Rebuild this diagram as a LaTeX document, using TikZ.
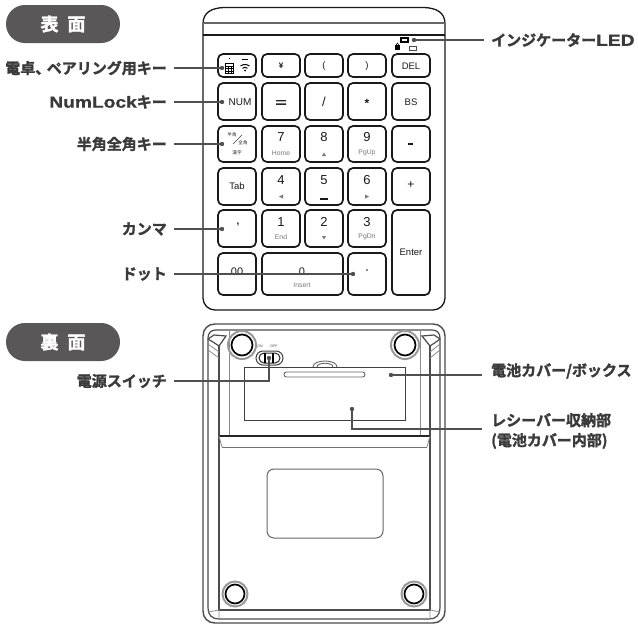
\documentclass[tikz,border=0pt]{standalone}
\usepackage{fontspec}
\setmainfont{Liberation Sans}
\newfontfamily\jp[FakeBold=1.8]{Noto Sans CJK JP Bold}
\newfontfamily\jpthin{Noto Sans CJK JP}
\newfontfamily\latb[FakeBold=0.8,FakeStretch=1.2]{Liberation Sans Bold}
\definecolor{pillc}{HTML}{5A5758}
\definecolor{leadc}{HTML}{505050}
\definecolor{labc}{HTML}{3A3A3A}
\definecolor{subc}{HTML}{777777}
\tikzset{
  keybox/.style={draw=black!90,line width=1.7pt,rounded corners=5pt,inner sep=0pt},
  pill/.style={fill=pillc,rounded corners=18.9pt,minimum width=114pt,minimum height=38pt,inner sep=0pt,text=white,font=\jp\fontsize{18}{18}\selectfont},
  labl/.style={anchor=east,inner sep=0pt,text=labc,font=\jp\fontsize{15}{16}\selectfont},
  labr/.style={anchor=west,inner sep=0pt,text=labc,font=\jp\fontsize{15}{20}\selectfont},
  leader/.style={draw=leadc,line width=1.4pt},
  ldot/.style={circle,fill=leadc,inner sep=0pt,minimum size=4.6pt},
  kt/.style={inner sep=0pt,text=black!90,font=\fontsize{9.5}{10}\selectfont},
  kn/.style={inner sep=0pt,text=black!90,font=\fontsize{13}{13}\selectfont},
  ks/.style={inner sep=0pt,text=subc,font=\fontsize{6.8}{7}\selectfont},
  kj/.style={inner sep=0pt,text=black!85,font=\jpthin\fontsize{4.6}{5}\selectfont},
  bodyl/.style={draw=black!90,line width=1.2pt},
  backo/.style={draw=black!70,line width=1.2pt},
  backi/.style={draw=black!45,line width=.8pt},
  foot/.style={circle,draw=black,line width=1.7pt,fill=white,inner sep=0pt},
  footo/.style={circle,draw=black!40,line width=2pt,inner sep=0pt},
}
\newcommand{\kkey}[5]{\node[keybox,minimum width=#4pt-#2pt,minimum height=#5pt-#3pt] (#1) at ({(#2+#4)/2},{(#3+#5)/2}) {};}
\newcommand{\lat}[1]{{\latb\fontsize{16}{16}\selectfont #1}}
\begin{document}
\begin{tikzpicture}[x=1pt,y=-1pt]
\useasboundingbox (0,0) rectangle (638,624);
% front body
\draw[bodyl,line width=1.3pt] (203,310) ++(0,-12) -- (203,24) .. controls (203,12) and (212,8) .. (224,7.5) -- (424,7.5) .. controls (436,8) and (445,12) .. (445,24) -- (445,298) arc[start angle=0,end angle=90,radius=12] -- (215,310) arc[start angle=90,end angle=180,radius=12] -- cycle;
\draw[black!60,line width=1.1pt] (203,23) -- (445,23);
\draw[bodyl] (203,35) -- (445,35);
% keys
\kkey{a1}{218}{54}{256}{77}\kkey{a2}{262}{54}{300}{77}\kkey{a3}{305}{54}{343}{77}\kkey{a4}{348}{54}{386}{77}\kkey{a5}{392}{54}{430}{77}
\kkey{b1}{218}{83}{256}{120}\kkey{b2}{262}{83}{300}{120}\kkey{b3}{305}{83}{343}{120}\kkey{b4}{348}{83}{386}{120}\kkey{b5}{392}{83}{430}{120}
\kkey{c1}{218}{126}{256}{162}\kkey{c2}{262}{126}{300}{162}\kkey{c3}{305}{126}{343}{162}\kkey{c4}{348}{126}{386}{162}\kkey{c5}{392}{126}{430}{162}
\kkey{d1}{218}{168}{256}{205}\kkey{d2}{262}{168}{300}{205}\kkey{d3}{305}{168}{343}{205}\kkey{d4}{348}{168}{386}{205}\kkey{d5}{392}{168}{430}{205}
\kkey{e1}{218}{210}{256}{247}\kkey{e2}{262}{210}{300}{247}\kkey{e3}{305}{210}{343}{247}\kkey{e4}{348}{210}{386}{247}
\kkey{f1}{218}{253}{256}{295}\kkey{f2}{262}{253}{343}{295}\kkey{f4}{348}{253}{386}{295}
\kkey{ent}{392}{210}{430}{295}
% key texts
\node[kt,font=\bfseries\fontsize{8}{8}\selectfont] (t12) at (281,66) {¥};
\node[kt] (t13) at (324,66) {(};
\node[kt] (t14) at (367,66) {)};
\node[kt] (t15) at (411,66) {DEL};
\node[kt,font=\fontsize{10}{10}\selectfont] (t21) at (240,102) {NUM};
\fill[black!85] (276,100) rectangle (286,101.4) (276,103.4) rectangle (286,104.8);
\node[kt,font=\fontsize{13}{13}\selectfont] (t23) at (324,102) {/};
\node[kt,font=\bfseries\fontsize{12}{12}\selectfont] (t24) at (367,103) {*};
\node[kt] (t25) at (411,102) {BS};
\node[kn] (t32) at (281,137) {7};
\node[ks] (s32) at (281,153) {Home};
\node[kn] (t33) at (324,137) {8};
\node[kn] (t34) at (367,137) {9};
\node[ks] (s34) at (367,153) {PgUp};
\fill[black!90] (408,143) rectangle (413,145.2);
\node[kt] (t41) at (237,186) {Tab};
\node[kn] (t42) at (281,180) {4};
\node[kn] (t43) at (324,180) {5};
\node[kn] (t44) at (367,180) {6};
\node[kt,font=\fontsize{12}{12}\selectfont] (t45) at (411,185) {+};
\node[kt,font=\bfseries\fontsize{10}{10}\selectfont] (t51) at (238,225) {,};
\node[kn] (t52) at (281,222) {1};
\node[ks] (s52) at (281,237) {End};
\node[kn] (t53) at (324,222) {2};
\node[kn] (t54) at (367,222) {3};
\node[ks] (s54) at (367,237) {PgDn};
\node[kt] (t55) at (411,252) {Enter};
\node[kt,font=\fontsize{11}{11}\selectfont] (t61) at (237,272) {00};
\node[kt,font=\fontsize{11}{11}\selectfont] (t62) at (302,272) {0};
\node[ks] (s62) at (302,285) {Insert};
\fill[black!90] (367,270) circle[radius=.9];
% small key glyphs
\fill[subc] (322,156) -- (326,156) -- (324,152.5) -- cycle;
\fill[subc] (279,196.5) -- (283,194.5) -- (283,198.5) -- cycle;
\fill[subc] (369,196.5) -- (365,194.5) -- (365,198.5) -- cycle;
\fill[subc] (322,236) -- (326,236) -- (324,239.5) -- cycle;
\fill[black!90] (320,198) rectangle (328,200);
% half/full key
\node[kj] (j1) at (232,135) {半角};
\node[kj] (j2) at (243,143) {全角};
\node[kj] (j3) at (237,153) {漢字};
\draw[black!75,line width=.7pt] (233,144) -- (242,135);
% calc and wifi icons
\fill[black] (229.5,58.5) circle[radius=.6];
\draw[black,line width=.9pt] (225.5,63) rectangle (233.5,73.5);
\draw[black,line width=.5pt] (225.5,66) -- (233.5,66) (225.5,68.5) -- (233.5,68.5) (225.5,71) -- (233.5,71) (228.2,66) -- (228.2,73.5) (230.8,66) -- (230.8,73.5);
\fill[black] (242,59) rectangle (248,60.4);
\draw[black,line width=1pt] (240.5,66) .. controls (243,64) and (247,64) .. (249.5,66);
\draw[black,line width=1pt] (242.5,68.3) .. controls (244,67) and (246,67) .. (247.5,68.3);
\fill[black] (245,70.5) circle[radius=1];
% indicators
\draw[black,line width=1.2pt,fill=white] (401,38) rectangle (408,42);
\fill[black] (395,45) rectangle (400,50);
\draw[black,line width=.6pt] (396,45) .. controls (396,42.5) and (399,42.5) .. (399,45);
\draw[black!70,line width=.6pt] (409,46.5) rectangle (416,50);
% back body
\draw[backo,line width=1.4pt] (215,324) -- (433,324) .. controls (440,324) and (445,329) .. (445,336) -- (445,611) .. controls (445,618) and (440,623) .. (433,623) -- (215,623) .. controls (208,623) and (203,618) .. (203,611) -- (203,336) .. controls (203,329) and (208,324) .. (215,324) -- cycle;
\draw[backo] (216,330) -- (432,330) .. controls (437,330) and (440,333) .. (440,338) -- (440,608) .. controls (440,615) and (436,619) .. (429,619) -- (219,619) .. controls (212,619) and (208,615) .. (208,608) -- (208,338) .. controls (208,333) and (211,330) .. (216,330) -- cycle;
\draw[backo,line width=1.3pt] (219,346) -- (219,610) -- (430,610) -- (430,346);
\draw[backi] (229,330) -- (229,436) (420,330) -- (420,436);
\draw[backo] (208,339) -- (214,335) -- (226,336) -- (219,346) -- (213,342) -- (208,339);
\draw[backo] (440,339) -- (434,335) -- (422,336) -- (430,346) -- (436,342) -- (440,339);
\draw[backi] (208,344) -- (219,352) (440,344) -- (430,352) (208,350) -- (219,358) (440,350) -- (430,358);
\draw[backi] (208,612) -- (219,610) -- (219,619) (440,612) -- (430,610) -- (430,619);
% ledge
\draw[black!85,line width=1.2pt] (219,436) -- (430,436);
\draw[black!55,line width=1pt] (222,447) -- (427,447);
\draw[backi] (219,436) -- (222,447) (430,436) -- (427,447);
% label plate
\draw[black!60,line width=1pt,rounded corners=7pt] (267,469) rectangle (383,538);
% feet
\node[footo,minimum size=28pt] (ft1o) at (242,345) {};
\node[foot,minimum size=21pt] (ft1) at (242,345) {};
\node[footo,minimum size=28pt] (ft2o) at (405,345) {};
\node[foot,minimum size=21pt] (ft2) at (405,345) {};
\node[footo,minimum size=25pt] (ft3o) at (235,594) {};
\node[foot,minimum size=19pt] (ft3) at (235,594) {};
\node[footo,minimum size=25pt] (ft4o) at (414,594) {};
\node[foot,minimum size=19pt] (ft4) at (414,594) {};
% cover
\draw[black!60,line width=.9pt] (313,367) .. controls (313,359) and (337,359) .. (337,367);
\draw[black!60,line width=.9pt] (317,367) .. controls (317,362) and (333,362) .. (333,367);
\draw[black!75,line width=1pt,fill=white] (244,367) rectangle (405,420);
\draw[black!60,line width=.9pt,rounded corners=2.5pt] (284,372) rectangle (365,377);
% switch
\draw[black!75,line width=1pt,rounded corners=7pt] (256,351) rectangle (283,365);
\draw[black!85,line width=1pt,rounded corners=5pt] (259,353) rectangle (280,363);
\draw[black,line width=1.4pt] (265,353) -- (265,363) (273,353) -- (273,363);
\node[inner sep=0pt,text=black!70,font=\fontsize{3.6}{4}\selectfont] (on) at (260,346) {ON};
\node[inner sep=0pt,text=black!70,font=\fontsize{3.6}{4}\selectfont] (off) at (274,346) {OFF};
% pills
\node[pill] (front) at (63,24) {表\hspace{9pt}面};
\node[pill] (back) at (63,342) {裏\hspace{9pt}面};
% labels
\node[labl] (l1) at (167,68) {電卓\hspace{0pt}、\hspace{-3.5pt}ペアリング用キー};
\node[labl] (l2) at (167,102) {\lat{NumLock}キー};
\node[labl] (l3) at (167,144) {半角全角キー};
\node[labl] (l4) at (167,229) {カンマ};
\node[labl] (l5) at (167,274) {ドット};
\node[labl] (l6) at (167,381) {電源スイッチ};
\node[labr] (r1) at (491,40) {インジケーター\lat{LED}};
\node[labr] (r2) at (491,371) {電池カバー/ボックス};
\node[labr,align=left] (r3) at (491,431) {レシーバー収納部\\(電池カバー内部)};
% leaders
\foreach \n/\x/\y in {d1/222/68,d2/222/102,d3/222/144,d4/222/229,d5/353/274,dr1/414/40,dr2/391/375,dr3/352/409,dsw/269/358}{
  \node[ldot,minimum size=4.4pt] (\n) at (\x,\y) {};
}
\coordinate (s1) at (174,68);\coordinate (s2) at (174,102);\coordinate (s3) at (174,144);
\coordinate (s4) at (174,229);\coordinate (s5) at (174,274);\coordinate (s6) at (174,381);
\coordinate (e1) at (484,40);\coordinate (e2) at (482,375);\coordinate (e3) at (482,429);
\draw[leader] (s1) -- (d1.center);
\draw[leader] (s2) -- (d2.center);
\draw[leader] (s3) -- (d3.center);
\draw[leader] (s4) -- (d4.center);
\draw[leader] (s5) -- (d5.center);
\draw[leader,line width=1.1pt] (s6) -| (dsw.center);
\draw[leader] (dr1.center) -- (e1);
\draw[leader] (dr2.center) -- (e2);
\draw[leader,line width=1.1pt] (dr3.center) |- (e3);
\end{tikzpicture}
\end{document}
